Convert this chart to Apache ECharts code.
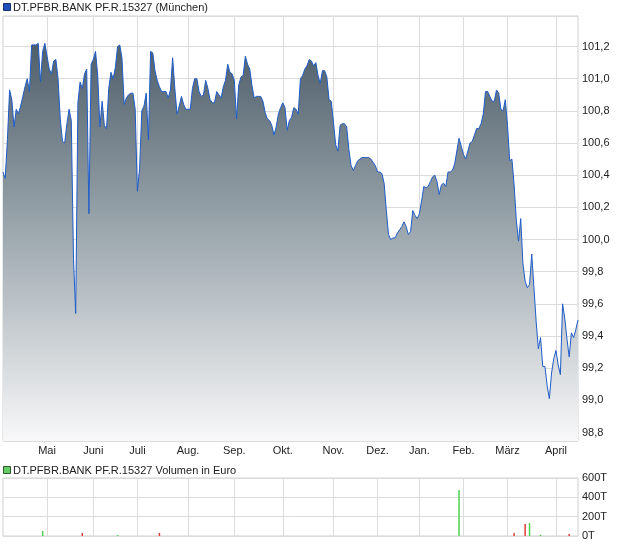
<!DOCTYPE html>
<html><head><meta charset="utf-8">
<script src="https://cdn.jsdelivr.net/npm/echarts@6/dist/echarts.min.js"></script>
<style>html,body{margin:0;padding:0;background:#fff}#c{width:620px;height:546px}</style>
</head><body><div id="c"></div>
<script>
// Month labels (first entry: partial April of previous year, no label)
const monthLabels = ['', 'Mai', 'Juni', 'Juli', 'Aug.', 'Sep.', 'Okt.', 'Nov.', 'Dez.', 'Jan.', 'Feb.', 'März', 'April'];
// trading days per month segment
const monthTradingDays = [20, 21, 20, 23, 21, 22, 23, 20, 19, 20, 20, 22, 11];

// daily prices
const priceValues = [
100.42,100.38,100.62,100.93,100.87,100.70,100.81,100.78,100.83,100.89,
100.95,101.00,100.92,101.21,101.21,101.21,101.22,100.98,101.17,101.22,
101.14,101.06,101.03,101.11,101.12,101.00,100.75,100.61,100.60,100.72,
100.81,100.74,99.88,99.54,100.85,100.98,100.94,101.03,101.06,100.16,
101.09,101.12,101.17,101.02,100.70,100.86,100.71,100.69,100.94,101.04,
101.00,101.07,101.20,101.21,101.13,100.84,100.88,100.90,100.91,100.91,
100.81,100.30,100.44,100.80,100.83,100.91,100.62,101.17,101.16,101.05,
100.99,100.95,100.92,100.92,100.92,100.88,100.93,101.13,100.94,100.78,
100.83,100.89,100.84,100.81,100.81,100.81,100.94,101.00,101.00,100.92,
100.89,100.90,100.99,100.94,100.87,100.85,100.85,100.92,100.90,100.88,
100.95,100.99,101.09,101.04,101.03,100.99,100.75,100.96,101.01,101.02,
101.14,101.09,101.06,100.96,100.88,100.89,100.89,100.89,100.86,100.79,
100.75,100.74,100.71,100.65,100.70,100.78,100.82,100.85,100.82,100.68,
100.74,100.76,100.82,100.81,100.78,101.00,101.02,101.06,101.08,101.12,
101.11,101.08,101.10,101.02,100.97,101.05,101.05,101.01,100.87,100.86,
100.73,100.59,100.55,100.71,100.72,100.72,100.70,100.56,100.46,100.43,
100.46,100.49,100.50,100.51,100.51,100.51,100.51,100.50,100.48,100.46,
100.42,100.42,100.41,100.35,100.18,100.03,100.00,100.01,100.01,100.04,
100.06,100.08,100.11,100.08,100.03,100.05,100.18,100.15,100.13,100.16,
100.24,100.33,100.32,100.33,100.36,100.39,100.40,100.36,100.28,100.34,
100.35,100.33,100.42,100.42,100.43,100.47,100.55,100.63,100.58,100.53,
100.50,100.55,100.60,100.61,100.65,100.69,100.69,100.72,100.78,100.92,
100.92,100.89,100.86,100.86,100.93,100.91,100.81,100.80,100.87,100.71,
100.49,100.50,100.34,100.12,99.99,100.13,99.85,99.74,99.70,99.72,
99.91,99.70,99.49,99.32,99.39,99.21,99.21,99.09,99.01,99.17,
99.26,99.31,99.22,99.16,99.60,99.51,99.38,99.27,99.42,99.39,
99.44,99.50
];

// volume (thousand euro) on given trading-day index
const volIndex  = [18, 36, 52, 71, 207, 232, 237, 239, 244, 257];
const volValues = [52, 31, 10, 31, 476, 31, 124, 134, 13, 21];
const volUp     = [true, false, true, false, true, false, false, true, true, false];

const priceName = 'DT.PFBR.BANK PF.R.15327 (München)';
const volName = 'DT.PFBR.BANK PF.R.15327 Volumen in Euro';

// build categories
const categories = [];
const monthStart = new Set();
monthTradingDays.forEach((n, m) => {
  for (let d = 0; d < n; d++) {
    if (d === 0 && m > 0) { monthStart.add(categories.length); categories.push(monthLabels[m]); }
    else categories.push('m' + m + 'd' + d);
  }
});
const isStart = (idx) => monthStart.has(idx);

const volData = categories.map(() => null);
volIndex.forEach((idx, k) => {
  volData[idx] = { value: volValues[k], itemStyle: { color: volUp[k] ? '#4fd04f' : '#e03c36' } };
});

const gridCol = '#dcdcdc';
const FONT = 'Liberation Sans, Arial, sans-serif';
const txt = { fontFamily: FONT, fontSize: 11, color: '#222' };

const chart = echarts.init(document.getElementById('c'), null, { renderer: 'canvas' });
chart.setOption({
  animation: false,
  backgroundColor: '#fff',
  graphic: [
    { type: 'rect', left: 3, top: 3, shape: { width: 7, height: 7 }, style: { fill: '#1f4fbf', stroke: '#17306a', lineWidth: 1 } },
    { type: 'text', left: 13, top: 2, style: { text: priceName, font: '11px ' + FONT, fill: '#222' } },
    { type: 'rect', left: 3, top: 466, shape: { width: 7, height: 7 }, style: { fill: '#66cc66', stroke: '#2c5a2c', lineWidth: 1 } },
    { type: 'text', left: 13, top: 465, style: { text: volName, font: '11px ' + FONT, fill: '#222' } }
  ],
  grid: [
    { left: 3, right: 42, top: 16, height: 425, show: true, borderColor: '#d0d0d0', borderWidth: 1, backgroundColor: '#fff' },
    { left: 3, right: 42, top: 478, height: 58, show: true, borderColor: '#d0d0d0', borderWidth: 1, backgroundColor: '#fff' }
  ],
  xAxis: [
    { type: 'category', gridIndex: 0, data: categories, boundaryGap: false,
      axisLine: { show: false }, axisTick: { show: false },
      axisLabel: Object.assign({ interval: (i) => isStart(i), margin: 4 }, txt),
      splitLine: { show: true, interval: (i) => isStart(i), lineStyle: { color: gridCol, width: 1 } } },
    { type: 'category', gridIndex: 1, data: categories, boundaryGap: false,
      axisLine: { show: false }, axisTick: { show: false }, axisLabel: { show: false },
      splitLine: { show: true, interval: (i) => isStart(i), lineStyle: { color: gridCol, width: 1 } } }
  ],
  yAxis: [
    { type: 'value', gridIndex: 0, position: 'right', min: 98.747, max: 101.39,
      minInterval: 0.2, maxInterval: 0.2, splitNumber: 13, scale: true,
      axisLine: { show: false }, axisTick: { show: false },
      splitLine: { show: true, lineStyle: { color: gridCol, width: 1 } },
      axisLabel: Object.assign({ margin: 4, showMinLabel: false, showMaxLabel: false,
        formatter: (v) => {
          const r = Math.round(v * 10) / 10;
          if (Math.abs(v - r) > 0.001 || r < 98.79 || r > 101.21) return '';
          return r.toFixed(1).replace('.', ',');
        } }, txt) },
    { type: 'value', gridIndex: 1, position: 'right', min: 0, max: 600, interval: 200,
      axisLine: { show: false }, axisTick: { show: false },
      splitLine: { show: true, lineStyle: { color: gridCol, width: 1 } },
      axisLabel: Object.assign({ margin: 4, formatter: (v) => v + 'T' }, txt) }
  ],
  series: [
    { name: priceName, type: 'line', xAxisIndex: 0, yAxisIndex: 0, data: priceValues,
      symbol: 'none', smooth: false,
      itemStyle: { color: '#1f4fbf' },
      lineStyle: { color: '#1f5cc8', width: 1 },
      areaStyle: { opacity: 1, color: { type: 'linear', x: 0, y: 16, x2: 0, y2: 441, global: true,
        colorStops: [ { offset: 0, color: '#435460' }, { offset: 0.5, color: '#9ba6ad' }, { offset: 1, color: '#f8f8f9' } ] } } },
    { name: volName, type: 'bar', xAxisIndex: 1, yAxisIndex: 1, data: volData,
      barWidth: 1.5, itemStyle: { color: '#66cc66' } }
  ]
});
</script></body></html>
